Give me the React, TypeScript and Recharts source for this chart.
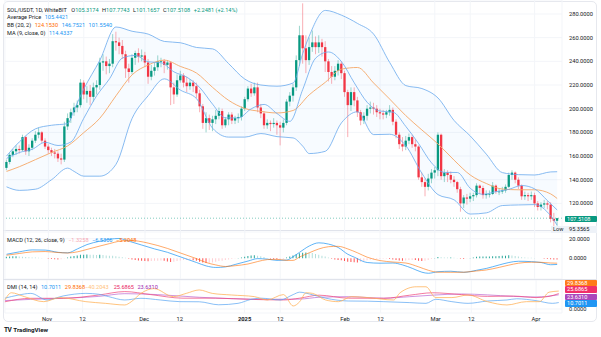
import React from "react";
import {
  ComposedChart,
  Bar,
  Line,
  Area,
  XAxis,
  YAxis,
  CartesianGrid,
  ReferenceLine,
  Cell,
} from "recharts";

// ---- daily candles, SOL/USDT 1D (Oct 19 2024 .. Apr 8 2025) ----
const firstOpen = 150;
const closes = [
  155, 161, 164, 166, 165, 176, 164, 167, 173, 178,
  180, 173, 168, 165, 163, 162, 158, 157, 185, 192,
  197, 201, 203, 222, 212, 215, 210, 218, 220, 239,
  240, 236, 238, 257, 256, 253, 246, 234, 231, 243,
  247, 244, 245, 239, 227, 232, 235, 240, 240, 237,
  239, 218, 212, 224, 228, 222, 219, 222, 219, 213,
  202, 188, 192, 188, 191, 194, 198, 186, 191, 195,
  190, 192, 193, 200, 208, 217, 213, 218, 201, 196,
  186, 188, 187, 188, 186, 184, 188, 206, 211, 218,
  241, 262, 251, 241, 252, 256, 252, 256, 252, 240,
  231, 227, 232, 238, 230, 214, 203, 214, 207, 197,
  190, 194, 200, 201, 200, 197, 196, 195, 197, 199,
  189, 178, 170, 168, 173, 176, 170, 168, 142, 138,
  134, 141, 146, 148, 178, 143, 146, 144, 140, 138,
  132, 120, 125, 124, 126, 127, 135, 133, 127, 128,
  128, 135, 130, 130, 131, 134, 144, 146, 140, 135,
  126, 127, 126, 127, 120, 117, 119, 120, 119, 107,
  105.3174, 107.5108,
];
const highs = [
  157, 163, 166, 169, 169, 178, 177, 170, 175, 181,
  184, 181, 175, 170, 167, 166, 164, 162, 189, 196,
  200, 205, 207, 225, 224, 219, 220, 222, 224, 243,
  246, 244, 242, 263, 265, 260, 258, 249, 238, 246,
  249, 251, 250, 248, 242, 237, 239, 245, 243, 242,
  241, 240, 222, 229, 232, 230, 227, 225, 224, 222,
  216, 204, 197, 195, 194, 199, 201, 200, 193, 197,
  197, 194, 196, 202, 210, 219, 221, 222, 222, 204,
  198, 191, 190, 192, 190, 189, 191, 208, 214, 221,
  245, 270, 289, 262, 260, 266, 261, 262, 259, 257,
  242, 236, 236, 241, 240, 232, 216, 218, 218, 210,
  199, 197, 203, 206, 205, 203, 200, 199, 199, 203,
  201, 191, 180, 176, 177, 179, 178, 174, 169, 146,
  141, 145, 149, 151, 180, 179, 149, 148, 147, 143,
  139, 134, 127, 128, 129, 129, 137, 136, 135, 131,
  131, 138, 136, 133, 134, 136, 146, 148, 147, 142,
  136, 130, 129, 130, 129, 122, 121, 123, 122, 121,
  112, 107.7743,
];
const lows = [
  148, 153, 159, 161, 162, 164, 161, 160, 165, 171,
  175, 171, 166, 162, 160, 158, 155, 153, 155, 182,
  188, 194, 197, 201, 208, 205, 203, 206, 212, 216,
  232, 229, 230, 235, 249, 246, 242, 226, 222, 229,
  237, 239, 240, 235, 221, 224, 228, 232, 235, 230,
  233, 203, 204, 210, 222, 218, 214, 216, 214, 209,
  197, 183, 180, 182, 181, 187, 191, 183, 184, 186,
  187, 187, 188, 190, 198, 206, 210, 211, 197, 192,
  183, 183, 181, 184, 178, 169, 180, 186, 202, 206,
  215, 236, 238, 230, 237, 248, 246, 247, 244, 231,
  223, 221, 224, 228, 225, 210, 176, 198, 202, 193,
  186, 187, 190, 196, 195, 193, 191, 191, 192, 194,
  186, 175, 166, 164, 165, 170, 167, 164, 140, 134,
  126, 131, 137, 141, 143, 140, 138, 138, 137, 134,
  129, 113, 116, 119, 121, 122, 125, 128, 124, 124,
  125, 127, 128, 127, 128, 129, 133, 140, 137, 132,
  123, 123, 122, 123, 117, 114, 114, 116, 115, 104,
  95.3565, 101.1657,
];
const opens = [firstOpen, ...closes.slice(0, -1)];

// ---- indicator lines, read at sample days [dayIndex, value] ----
const bbUpper: [number, number][] = [
  [0, 160], [4, 172], [9, 183], [14, 186], [19, 187.4], [21, 199], [24, 216.6], [29, 241],
  [34, 269], [39, 265.4], [44, 263], [49, 256.8], [54, 255.7], [59, 251.7], [64, 250.5],
  [69, 238], [74, 225], [79, 220], [84, 219], [89, 221.7], [92, 246.7], [94, 261.3],
  [99, 283], [104, 279], [109, 272], [114, 263], [119, 239], [124, 219.5], [129, 217],
  [134, 209], [139, 190], [144, 177], [149, 161.6], [154, 146], [159, 144.3], [164, 144],
  [169, 146.6], [171, 146.75],
];
const bbBasis: [number, number][] = [
  [0, 147], [4, 151], [9, 157], [14, 163], [19, 168.6], [24, 179.8], [29, 192], [34, 210.9],
  [39, 228.6], [44, 236.9], [49, 241], [54, 235.7], [59, 230.1], [64, 218], [69, 207],
  [74, 200.2], [79, 197.7], [84, 196.4], [89, 198.5], [94, 211.7], [99, 222.3], [104, 233.4],
  [109, 234.8], [114, 221.7], [119, 208.1], [124, 194.1], [129, 182], [134, 170.2],
  [139, 156.5], [144, 144], [149, 136.8], [154, 132.1], [159, 131.5], [164, 131.5],
  [169, 128], [171, 124.15],
];
const bbLower: [number, number][] = [
  [0, 134], [4, 131], [9, 132], [14, 140], [19, 149.8], [21, 147], [24, 143], [29, 143],
  [34, 153], [39, 191.8], [44, 211], [49, 225.2], [54, 215.7], [59, 208.5], [64, 183.5],
  [69, 176], [74, 176], [79, 179], [84, 176.4], [89, 175.3], [92, 168.3], [94, 162.1],
  [99, 164], [104, 188], [109, 197.4], [114, 178.1], [119, 178.4], [124, 168.7],
  [129, 145.4], [134, 127.4], [139, 123], [144, 111], [149, 112], [154, 118.2],
  [159, 118.7], [164, 119], [169, 109.4], [171, 101.55],
];
const ma9: [number, number][] = [
  [0, 158], [4, 163], [8, 165.7], [12, 171.6], [16, 168.9], [20, 171.9], [24, 191.9],
  [28, 210.9], [32, 225.3], [36, 242.8], [40, 245], [44, 239.6], [48, 238.8], [52, 231.1],
  [56, 226.6], [60, 217.9], [64, 203.8], [68, 192.2], [72, 192.2], [76, 199.9], [80, 203.6],
  [84, 195.9], [88, 189.3], [92, 216.3], [96, 242.7], [100, 247.9], [104, 239.8],
  [108, 221.8], [112, 205.4], [116, 198], [120, 197.1], [124, 185], [128, 170.4],
  [132, 154.2], [136, 146.2], [140, 146.1], [144, 132.8], [148, 127.7], [152, 129.9],
  [156, 131.9], [160, 135.1], [164, 132.3], [168, 122.3], [171, 114.43],
];

// MACD (12, 26, 9)
const macdLine: [number, number][] = [
  [0, 4], [4, 6.5], [8, 8.5], [12, 8.3], [16, 6], [19, 5.5], [22, 9.5], [25, 14], [29, 17.5],
  [32, 19.5], [35, 20.3], [38, 17.5], [42, 13.5], [46, 9.5], [50, 6], [53, 2.5], [56, -1],
  [59, -4.5], [62, -8], [65, -9.6], [68, -9], [71, -6.5], [75, -3], [78, -0.5], [81, -1],
  [84, -2.3], [87, -2], [89, 1.5], [91, 6], [94, 12.5], [97, 15.8], [100, 14.5], [103, 11],
  [106, 4], [108, 1], [112, -4.5], [116, -5.2], [120, -5], [123, -7], [126, -10.5],
  [129, -14.5], [131, -15.6], [134, -14], [138, -13.5], [142, -14.6], [146, -12.5],
  [149, -10.6], [153, -7], [156, -4.5], [159, -3.2], [163, -3.6], [166, -4.5], [169, -6.8],
  [171, -6.5306],
];
const signalLine: [number, number][] = [
  [0, 3], [4, 4.8], [8, 6.5], [12, 6.8], [16, 5.8], [19, 5.3], [22, 6.5], [25, 9], [29, 12.5],
  [32, 15], [35, 17.5], [38, 18.5], [41, 17.5], [44, 15.5], [47, 13], [50, 10], [53, 6.5],
  [56, 3], [59, -0.5], [62, -4.5], [65, -7], [68, -8.6], [71, -7.8], [75, -6], [78, -3.5],
  [81, -1.5], [84, -1.2], [87, -2.3], [89, -2.3], [91, 1.2], [94, 5.5], [97, 9.5],
  [100, 11.8], [103, 12.2], [106, 9.5], [109, 5.5], [112, 1], [116, -2.5], [120, -4],
  [124, -5], [128, -9], [131, -12.5], [134, -14.5], [138, -14.6], [142, -14.5], [146, -13.2],
  [149, -12.2], [153, -9.5], [156, -7.2], [159, -5.2], [163, -4.2], [166, -4.3], [169, -5],
  [171, -5.2048],
];
const histogram = [
  1.5, 1.8, 2, 2, 1.8,
  1.5, 1.2, 1, 0.8, 0.6, 0.4, 0.2, -0.2,
  -0.6, -1, -1.2, -1.3, -1.1, -0.3,
  0.8, 1.6, 2.2, 2.8, 3.4, 3.6, 3.8, 3.6,
  3.4, 3.2, 3.4, 3.2, 2.8, 2.6,
  2.4, 1.9, 1.4, 0.9, 0.3,
  -0.6, -1.4, -2, -2.5, -2.8, -3, -3.2, -3, -2.8,
  -2.6, -2.4, -2.6, -3.4, -4,
  -3.8, -3, -2.4, -2, -1.8, -1.8, -2.2,
  -2.8, -3.6, -4.4, -5, -4.8, -4.4,
  -3.6, -3, -2.6, -2, -1.4, -0.8,
  -0.4, 0.1, 0.6,
  1.4, 2.2, 2.8, 3, 2.6, 2, 1.2,
  0.2, -0.6, -1, -1.2, -1.2, -0.8,
  0.6, 1.8, 2.8, 4, 5,
  5.6, 5.8, 5.6, 5.2,
  4.4, 3.6, 2.6, 1.6, 0.6,
  -0.6, -1.4, -1.8, -2.2, -3, -3.6, -4, -4.2, -4.4, -3.8,
  -3, -2.2, -1.6, -1.2, -1, -0.8, -0.6, -0.6, -0.8,
  -1.4, -2, -2.4, -2.6,
  -2.4, -2, -1.8, -2, -2.8, -3, -2.6,
  -1.8, -1,
  0.2, 1.2, 1, 0.8, 0.6, 0.6, 0.4, 0.2,
  -0.6, -0.8, -0.4, 0.2,
  0.8, 1.4, 1.6, 1.6, 1.8, 1.8, 2, 2, 2.2, 2.4, 2.6, 3, 2.8,
  2.2, 1.6, 1, 0.6, 0.4, 0.3, 0.1, 0, -0.2,
  -0.6, -0.9, -1.1, -1.3, -1.3258,
];

// DMI (14, 14)
const plusDI: [number, number][] = [
  [0, 18], [4, 23], [8, 26], [13, 15], [18, 21.7], [25, 26], [29, 24.5], [32, 20.6], [37, 15],
  [42, 17.8], [48, 15], [54, 12.2], [60, 12], [66, 7], [72, 9.4], [76, 16], [79, 18], [85, 15],
  [89, 24], [91, 28], [94, 25], [99, 18], [106, 13.3], [112, 13], [117, 12.2], [125, 10.6],
  [130, 9.4], [133, 16.1], [138, 12.2], [143, 9.4], [149, 13.3], [155, 15], [158, 17],
  [164, 13.9], [169, 9.4], [171, 10.7011],
];
const minusDI: [number, number][] = [
  [0, 15], [2, 27], [6, 20.6], [12, 12.2], [17, 19], [25, 12.2], [31, 9.4], [37, 6.7], [39, 12],
  [42, 26], [46, 34], [52, 20.6], [56, 26], [60, 31.7], [64, 26], [70, 23.3], [77, 20.6],
  [81, 15], [86, 24], [89, 5], [91, 12], [93, 27], [95, 26], [99, 15], [103, 12.2], [107, 20.6],
  [112, 19], [120, 15], [122, 27], [127, 37], [130, 37], [133, 19], [138, 19], [143, 23.3],
  [149, 12.2], [155, 6.7], [161, 12.2], [165, 12.2], [168, 28], [171, 29.8368],
];
const adx: [number, number][] = [
  [0, 12], [8, 17.8], [18, 17.8], [29, 23.3], [37, 29], [45, 24], [55, 18], [65, 18], [76, 16],
  [86, 15], [91, 18], [97, 23], [106, 18], [117, 17.8], [125, 23], [132, 27], [141, 24],
  [149, 21], [157, 21.5], [164, 19], [168, 21], [171, 25.6865],
];
const adxr: [number, number][] = [
  [0, 14], [8, 16], [18, 17.8], [29, 21], [37, 25.5], [47, 24], [60, 19.5], [70, 17.2],
  [81, 16.1], [91, 16.5], [97, 19.5], [106, 20.5], [117, 18], [125, 20.5], [132, 23],
  [141, 25], [149, 23.5], [157, 21], [164, 20], [171, 23.631],
];

// time axis
const tickIdx = [13, 24, 43, 54, 74, 85, 105, 116, 133, 144, 164];
const tickLabels = ["Nov", "12", "Dec", "12", "2025", "12", "Feb", "12", "Mar", "12", "Apr"];
const priceTicks = [120, 140, 160, 180, 200, 220, 240, 260, 280];

const GREEN = "#089981";
const RED = "#f23645";
const BLUE = "#2196f3";
const ORANGE = "#ff6d00";
const TEXT = "#131722";
const FONT = "Roboto, 'Noto Sans', sans-serif";
const PLOT_L = 4.9;
const AXIS_W = 39;

type Row = Record<string, number | undefined> & { i: number };

const rows: Row[] = Array.from({ length: closes.length + 1 }, (_, i) => ({
  i,
  o: opens[i],
  h: highs[i],
  l: lows[i],
  c: closes[i],
  hist: histogram[i],
}));
const put = (key: string, pts: [number, number][]) =>
  pts.forEach(([d, v]) => {
    rows[d][key] = v;
  });
put("bbU", bbUpper);
put("bbM", bbBasis);
put("bbL", bbLower);
put("ma", ma9);
put("macd", macdLine);
put("sig", signalLine);
put("pdi", plusDI);
put("mdi", minusDI);
put("adx", adx);
put("adxr", adxr);

function Candle(props: any) {
  const { x, y, width, height, payload } = props;
  if (!payload || payload.h == null) return null;
  const { o, h, l, c } = payload;
  const top = Math.min(y, y + height);
  const hgt = Math.abs(height);
  const span = h - l || 1;
  const py = (v: number) => top + ((h - v) / span) * hgt;
  const cx = x + width / 2;
  const col = c >= o ? GREEN : RED;
  const b0 = py(Math.max(o, c));
  const b1 = py(Math.min(o, c));
  return (
    <g>
      <line x1={cx} x2={cx} y1={top} y2={top + hgt} stroke={col} strokeOpacity={0.5} strokeWidth={0.8} />
      <rect x={cx - 1.15} y={b0} width={2.3} height={Math.max(b1 - b0, 0.7)} fill={col} />
    </g>
  );
}

function histColor(k: number) {
  const v = histogram[k];
  if (v == null) return "transparent";
  const prev = k > 0 ? histogram[k - 1] : v;
  if (v >= 0) return v >= prev ? "#26a69a" : "#b2dfdb";
  return v < prev ? "#ff5252" : "#ffcdd2";
}

function TimeTick({ x, y, payload }: any) {
  const label = tickLabels[tickIdx.indexOf(payload.value)];
  return (
    <text x={x} y={y + 7.5} textAnchor="middle" fontSize={5.8} fill={TEXT} fontWeight={label === "2025" ? 700 : 400}>
      {label}
    </text>
  );
}

const axisTick = { fontSize: 5.7, fill: TEXT };
const fmt4 = (v: number) => v.toFixed(4);

const ValueBox = ({ top, bg, text, color = "#fff", left = 564 }: any) => (
  <div
    style={{
      position: "absolute",
      left,
      top,
      width: 597 - left,
      height: 6.4,
      background: bg,
      color,
      fontSize: 5.6,
      lineHeight: "6.4px",
      paddingLeft: 2,
      boxSizing: "border-box",
      borderRadius: 1,
    }}
  >
    {text}
  </div>
);

const legendStyle = (top: number): React.CSSProperties => ({
  position: "absolute",
  left: 7,
  top,
  fontSize: 5.6,
  lineHeight: "6px",
  whiteSpace: "nowrap",
  color: TEXT,
});
const gap = { marginLeft: 3.5 };

export default function App() {
  return (
    <div
      style={{
        position: "absolute",
        left: 0,
        top: 0,
        width: 601,
        height: 337,
        background: "#fff",
        fontFamily: FONT,
        overflow: "hidden",
      }}
    >
      {/* frame + pane separators */}
      <div style={{ position: "absolute", left: 2.5, top: 0.5, width: 594, height: 321, border: "1px solid #e6e8ee", borderRadius: 5, boxSizing: "border-box" }} />
      <div style={{ position: "absolute", left: 3, top: 230, width: 593, height: 1, background: "#e0e3eb" }} />
      <div style={{ position: "absolute", left: 3, top: 279, width: 593, height: 1, background: "#e0e3eb" }} />

      {/* main price pane */}
      <div style={{ position: "absolute", left: 0, top: 0 }}>
        <ComposedChart width={601} height={233} data={rows} margin={{ top: 0, right: 0, bottom: 0, left: PLOT_L }} barCategoryGap={0}>
          <CartesianGrid stroke="#f3f5f9" />
          <XAxis dataKey="i" hide ticks={tickIdx} interval={0} />
          <YAxis
            orientation="right"
            width={AXIS_W}
            domain={[95, 291.8]}
            ticks={priceTicks}
            allowDataOverflow
            axisLine={false}
            tickLine={false}
            tickSize={5}
            tickMargin={2}
            tick={axisTick}
            tickFormatter={fmt4}
          />
          <Area
            dataKey={(d: Row) => (d.bbU != null ? [d.bbL, d.bbU] : null)}
            type="monotone"
            stroke="none"
            fill="rgba(33,150,243,0.06)"
            connectNulls
            isAnimationActive={false}
          />
          <Line dataKey="bbU" type="monotone" stroke="#6aa9ee" strokeWidth={0.8} dot={false} connectNulls isAnimationActive={false} />
          <Line dataKey="bbL" type="monotone" stroke="#6aa9ee" strokeWidth={0.8} dot={false} connectNulls isAnimationActive={false} />
          <Line dataKey="bbM" type="monotone" stroke="#f5a766" strokeWidth={0.9} dot={false} connectNulls isAnimationActive={false} />
          <Line dataKey="ma" type="monotone" stroke="#6aa9ee" strokeWidth={0.8} dot={false} connectNulls isAnimationActive={false} />
          <ReferenceLine y={107.5108} stroke={GREEN} strokeOpacity={0.5} strokeDasharray="1 2" />
          <Bar dataKey={(d: Row) => (d.h != null ? [d.l, d.h] : null)} shape={Candle} isAnimationActive={false} />
        </ComposedChart>
      </div>

      {/* MACD pane */}
      <div style={{ position: "absolute", left: 0, top: 231 }}>
        <ComposedChart width={601} height={48} data={rows} margin={{ top: 0, right: 0, bottom: 0, left: PLOT_L }} barCategoryGap="30%">
          <CartesianGrid stroke="#f3f5f9" />
          <XAxis dataKey="i" hide ticks={tickIdx} interval={0} />
          <YAxis
            orientation="right"
            width={AXIS_W}
            domain={[-21.5, 28]}
            ticks={[-20, 0, 20]}
            allowDataOverflow
            axisLine={false}
            tickLine={false}
            tickSize={5}
            tickMargin={2}
            tick={axisTick}
            tickFormatter={fmt4}
          />
          <Bar dataKey="hist" isAnimationActive={false}>
            {rows.map((_, k) => (
              <Cell key={k} fill={histColor(k)} />
            ))}
          </Bar>
          <Line dataKey="macd" type="monotone" stroke={BLUE} strokeOpacity={0.8} strokeWidth={0.9} dot={false} connectNulls isAnimationActive={false} />
          <Line dataKey="sig" type="monotone" stroke={ORANGE} strokeOpacity={0.65} strokeWidth={0.9} dot={false} connectNulls isAnimationActive={false} />
        </ComposedChart>
      </div>

      {/* DMI pane + time axis */}
      <div style={{ position: "absolute", left: 0, top: 280 }}>
        <ComposedChart width={601} height={46} data={rows} margin={{ top: 0, right: 0, bottom: 0, left: PLOT_L }}>
          <CartesianGrid stroke="#f3f5f9" />
          <XAxis dataKey="i" ticks={tickIdx} interval={0} height={13} axisLine={false} tickLine={false} tickSize={0} tickMargin={0} tick={<TimeTick />} />
          <YAxis
            orientation="right"
            width={AXIS_W}
            domain={[-6.7, 48.3]}
            ticks={[0]}
            allowDataOverflow
            axisLine={false}
            tickLine={false}
            tickSize={5}
            tickMargin={2}
            tick={axisTick}
            tickFormatter={fmt4}
          />
          <Line dataKey="adxr" type="monotone" stroke="#b65fcf" strokeOpacity={0.75} strokeWidth={0.9} dot={false} connectNulls isAnimationActive={false} />
          <Line dataKey="adx" type="monotone" stroke="#f0457a" strokeOpacity={0.8} strokeWidth={0.9} dot={false} connectNulls isAnimationActive={false} />
          <Line dataKey="pdi" type="monotone" stroke="#5aa6f2" strokeOpacity={0.8} strokeWidth={0.9} dot={false} connectNulls isAnimationActive={false} />
          <Line dataKey="mdi" type="monotone" stroke="#ffb055" strokeOpacity={0.85} strokeWidth={0.9} dot={false} connectNulls isAnimationActive={false} />
        </ComposedChart>
      </div>

      {/* legends */}
      <div style={legendStyle(6.5)}>
        <span>SOL/USDT, 1D, WhiteBIT</span>
        <span style={{ marginLeft: 4.5 }}>O</span>
        <span style={{ color: GREEN }}>105.3174</span>
        <span style={gap}>H</span>
        <span style={{ color: GREEN }}>107.7743</span>
        <span style={gap}>L</span>
        <span style={{ color: GREEN }}>101.1657</span>
        <span style={gap}>C</span>
        <span style={{ color: GREEN }}>107.5108</span>
        <span style={{ ...gap, color: GREEN }}>+2.2481 (+2.14%)</span>
      </div>
      <div style={legendStyle(14.2)}>
        <span>Average Price</span>
        <span style={{ ...gap, color: BLUE }}>105.4421</span>
      </div>
      <div style={legendStyle(21.9)}>
        <span>BB (20, 2)</span>
        <span style={{ ...gap, color: ORANGE }}>124.1530</span>
        <span style={{ ...gap, color: BLUE }}>146.7521</span>
        <span style={{ ...gap, color: BLUE }}>101.5540</span>
      </div>
      <div style={legendStyle(29.5)}>
        <span>MA (9, close, 0)</span>
        <span style={{ ...gap, color: BLUE }}>114.4337</span>
      </div>
      <div style={legendStyle(237)}>
        <span>MACD (12, 26, close, 9)</span>
        <span style={{ ...gap, color: "#f7a8b4" }}>−1.3258</span>
        <span style={{ ...gap, color: BLUE }}>−6.5306</span>
        <span style={{ ...gap, color: ORANGE }}>−5.2048</span>
      </div>
      <div style={legendStyle(284.3)}>
        <span>DMI (14, 14)</span>
        <span style={{ ...gap, color: BLUE }}>10.7011</span>
        <span style={{ ...gap, color: ORANGE }}>29.8368</span>
        <span style={{ color: "#ffc27a" }}>−40.2043</span>
        <span style={{ marginLeft: 5, color: "#e91e63" }}>25.6865</span>
        <span style={{ ...gap, color: "#9c27b0" }}>23.6310</span>
      </div>

      {/* price-scale value labels */}
      <ValueBox top={215.8} bg={GREEN} text="107.5108" left={565} />
      <div style={{ position: "absolute", left: 551, top: 226, width: 46, height: 7, background: "#eef2f8" }} />
      <div style={{ position: "absolute", left: 553, top: 226.3, fontSize: 5.6, lineHeight: "7px", color: TEXT }}>Low</div>
      <div style={{ position: "absolute", left: 569, top: 226.3, fontSize: 5.6, lineHeight: "7px", color: TEXT }}>95.3565</div>
      <ValueBox top={279.8} bg="#ff7a1a" text="29.8368" left={565} />
      <ValueBox top={286.4} bg="#f0306a" text="25.6865" left={565} />
      <ValueBox top={293.6} bg="#ab47bc" text="23.6310" left={565} />
      <ValueBox top={300.2} bg="#2196f3" text="10.7011" left={565} />

      {/* logo */}
      <div style={{ position: "absolute", left: 4, top: 326, fontSize: 6.2, fontWeight: 700, color: TEXT, lineHeight: "8px" }}>
        <span style={{ fontSize: 6.5, letterSpacing: -0.5 }}>TV</span>
        <span style={{ marginLeft: 2 }}>TradingView</span>
      </div>
    </div>
  );
}
